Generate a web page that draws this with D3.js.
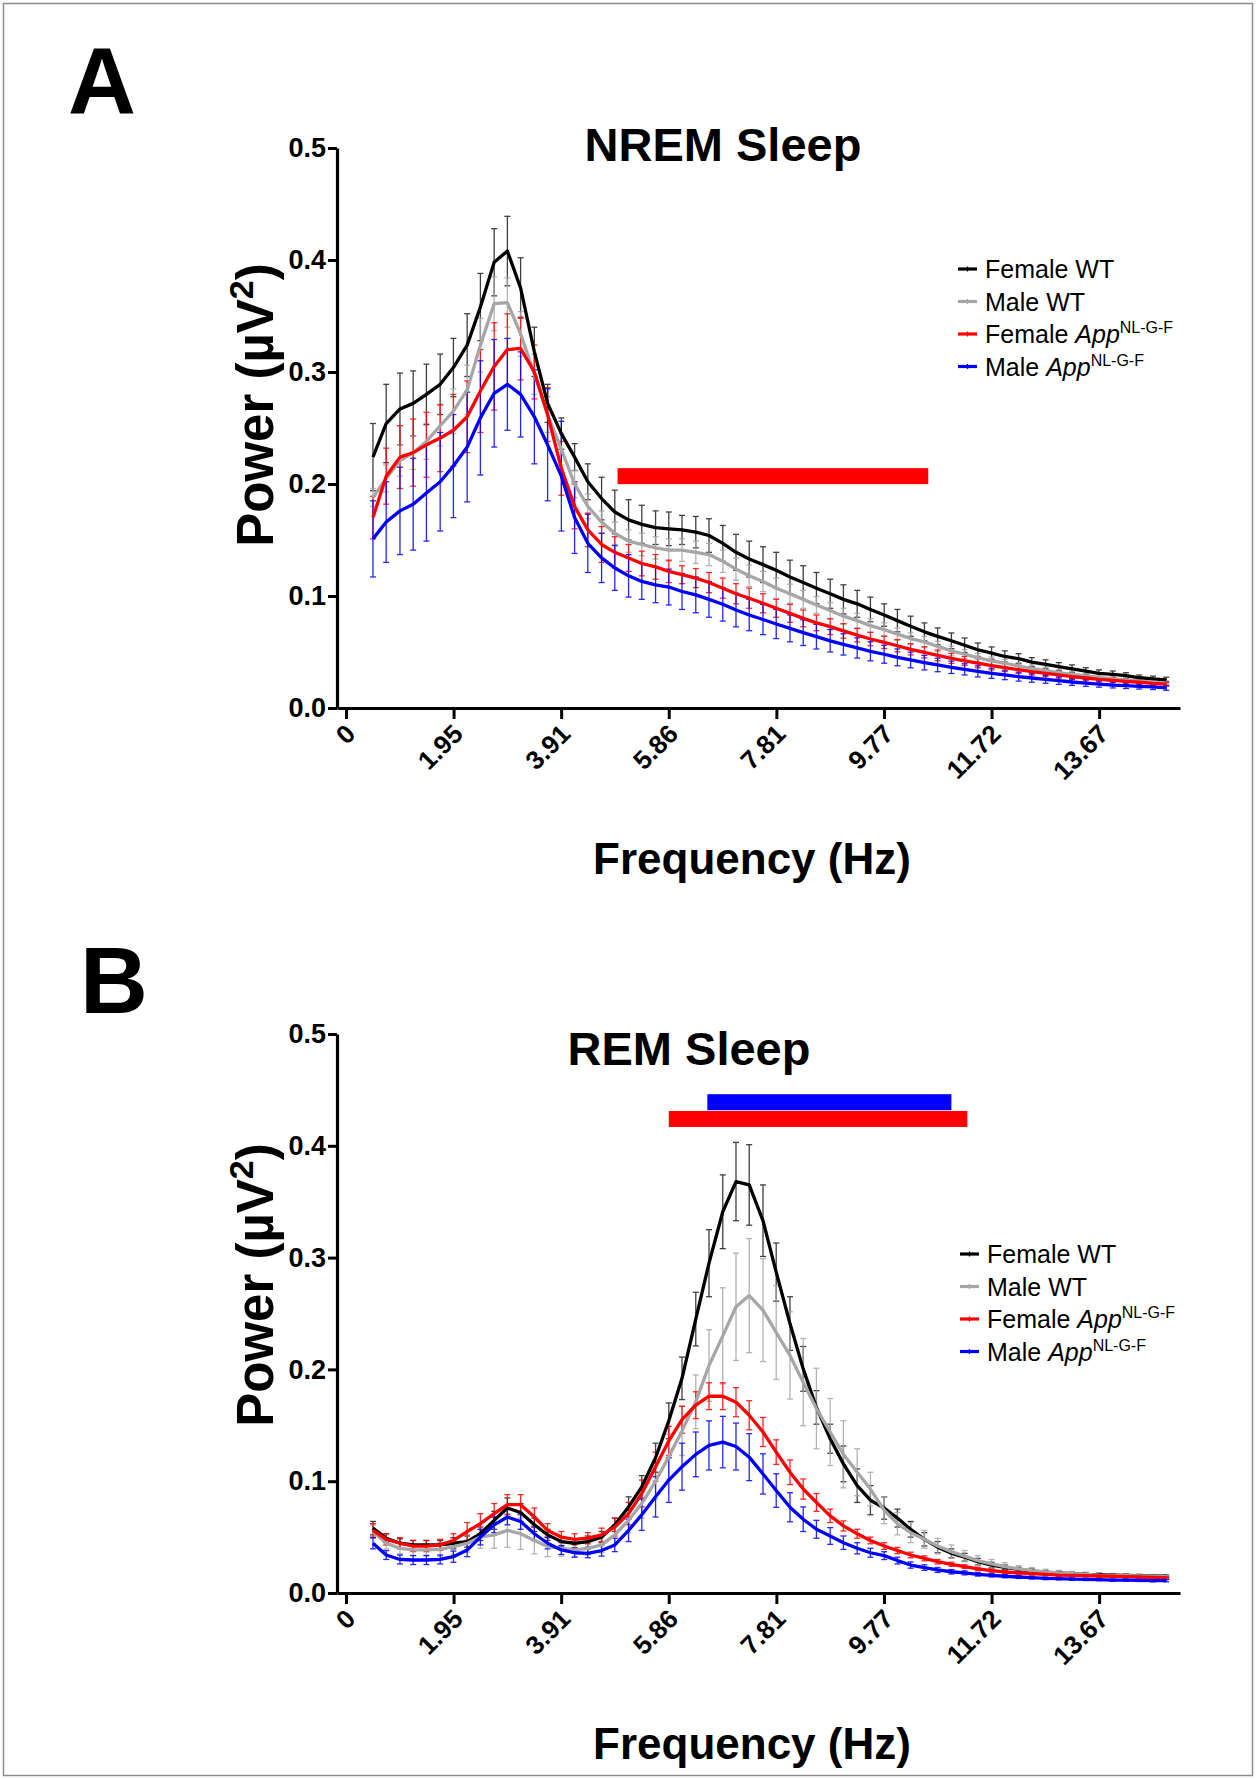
<!DOCTYPE html>
<html>
<head>
<meta charset="utf-8">
<script src="https://cdn.jsdelivr.net/npm/d3@7"></script>
<style>
  body { margin: 0; background: #fff; }
  svg text { font-family: "Liberation Sans", Arial, sans-serif; }
</style>
</head>
<body>
<svg id="fig" width="1256" height="1779"></svg>
<script>
// frequency bins (Hz), 0.244 Hz resolution, bins 2..61
var freqs = [0.49, 0.73, 0.98, 1.22, 1.46, 1.71, 1.95, 2.20, 2.44, 2.69, 2.93, 3.17, 3.42, 3.66, 3.91,
  4.15, 4.39, 4.64, 4.88, 5.13, 5.37, 5.62, 5.86, 6.10, 6.35, 6.59, 6.84, 7.08, 7.32, 7.57, 7.81,
  8.06, 8.30, 8.54, 8.79, 9.03, 9.28, 9.52, 9.77, 10.01, 10.25, 10.50, 10.74, 10.99, 11.23, 11.47, 11.72,
  11.96, 12.21, 12.45, 12.70, 12.94, 13.18, 13.43, 13.67, 13.92, 14.16, 14.40, 14.65, 14.89];

var xTicks = [0, 1.953, 3.906, 5.859, 7.813, 9.766, 11.719, 13.672];
var xTickLabels = ["0", "1.95", "3.91", "5.86", "7.81", "9.77", "11.72", "13.67"];
var yTicks = [0, 0.1, 0.2, 0.3, 0.4, 0.5];

var groups = ["Female WT", "Male WT", "Female App", "Male App"];
var colors = ["#000000", "#a6a6a6", "#ff0000", "#0000ff"];

// NREM means
var nremFemaleWT = [0.224, 0.254, 0.267, 0.272, 0.280, 0.289, 0.304, 0.324, 0.358, 0.398, 0.408, 0.375, 0.318, 0.272, 0.245,
  0.224, 0.202, 0.187, 0.175, 0.168, 0.164, 0.161, 0.160, 0.159, 0.157, 0.154, 0.147, 0.139, 0.133, 0.128, 0.123,
  0.117, 0.112, 0.107, 0.102, 0.097, 0.093, 0.088, 0.083, 0.078, 0.073, 0.068, 0.064, 0.060, 0.056, 0.052, 0.049,
  0.046, 0.044, 0.041, 0.039, 0.037, 0.035, 0.033, 0.031, 0.030, 0.029, 0.027, 0.026, 0.025];
var nremMaleWT = [0.188, 0.205, 0.221, 0.228, 0.238, 0.252, 0.265, 0.284, 0.324, 0.361, 0.362, 0.334, 0.298, 0.262, 0.231,
  0.200, 0.180, 0.166, 0.156, 0.149, 0.146, 0.143, 0.141, 0.141, 0.139, 0.137, 0.131, 0.124, 0.118, 0.113, 0.107,
  0.102, 0.097, 0.092, 0.087, 0.082, 0.078, 0.0735, 0.070, 0.066, 0.062, 0.059, 0.055, 0.051, 0.048, 0.045, 0.042,
  0.040, 0.0375, 0.0354, 0.0333, 0.0315, 0.030, 0.0286, 0.0274, 0.026, 0.025, 0.024, 0.023, 0.0223];
var nremFemaleApp = [0.170, 0.207, 0.224, 0.228, 0.235, 0.241, 0.248, 0.260, 0.283, 0.305, 0.320, 0.321, 0.300, 0.262, 0.214,
  0.180, 0.159, 0.146, 0.139, 0.134, 0.129, 0.126, 0.122, 0.119, 0.116, 0.112, 0.107, 0.102, 0.098, 0.0935, 0.089,
  0.0845, 0.080, 0.076, 0.0726, 0.0688, 0.065, 0.0616, 0.0586, 0.0556, 0.0524, 0.0497, 0.047, 0.0443, 0.042, 0.040, 0.0378,
  0.036, 0.0342, 0.0324, 0.031, 0.0295, 0.028, 0.0268, 0.0256, 0.0247, 0.0238, 0.023, 0.022, 0.0214];
var nremMaleApp = [0.151, 0.166, 0.176, 0.182, 0.192, 0.202, 0.216, 0.233, 0.259, 0.281, 0.289, 0.280, 0.260, 0.235, 0.207,
  0.170, 0.147, 0.134, 0.125, 0.118, 0.113, 0.110, 0.108, 0.104, 0.101, 0.097, 0.0926, 0.0875, 0.083, 0.079, 0.075,
  0.0711, 0.0673, 0.0637, 0.060, 0.0568, 0.0536, 0.0506, 0.048, 0.0452, 0.0429, 0.0405, 0.0384, 0.0363, 0.0345, 0.0327, 0.031,
  0.0295, 0.028, 0.0268, 0.0256, 0.0244, 0.0232, 0.0223, 0.0214, 0.0205, 0.0199, 0.0193, 0.0188, 0.018];

// NREM SEM
var nremFemaleWTsem = [0.030, 0.035, 0.032, 0.029, 0.027, 0.027, 0.026, 0.028, 0.030, 0.030, 0.031, 0.027, 0.022, 0.017, 0.014,
  0.012, 0.016, 0.019, 0.0195, 0.018, 0.017, 0.015, 0.015, 0.013, 0.014, 0.015, 0.016, 0.016, 0.016, 0.016, 0.016,
  0.015, 0.015, 0.014, 0.013, 0.013, 0.012, 0.011, 0.010, 0.010, 0.009, 0.008, 0.0075, 0.007, 0.0065, 0.006, 0.0055,
  0.005, 0.0045, 0.004, 0.004, 0.0035, 0.0035, 0.003, 0.003, 0.003, 0.0025, 0.0025, 0.0025, 0.0025];
var nremMaleWTsem = [0.008, 0.012, 0.014, 0.015, 0.016, 0.018, 0.020, 0.022, 0.024, 0.024, 0.022, 0.020, 0.018, 0.016, 0.014,
  0.012, 0.011, 0.010, 0.010, 0.010, 0.010, 0.010, 0.010, 0.010, 0.010, 0.010, 0.010, 0.010, 0.0095, 0.009, 0.009,
  0.0085, 0.008, 0.0075, 0.007, 0.007, 0.0065, 0.006, 0.006, 0.0055, 0.005, 0.005, 0.0045, 0.0042, 0.004, 0.0038, 0.0035,
  0.0033, 0.003, 0.003, 0.0028, 0.0026, 0.0025, 0.0024, 0.0023, 0.0022, 0.0021, 0.002, 0.002, 0.002];
var nremFemaleAppSem = [0.019, 0.025, 0.028, 0.030, 0.029, 0.030, 0.032, 0.032, 0.037, 0.039, 0.032, 0.028, 0.024, 0.024, 0.024,
  0.020, 0.015, 0.016, 0.014, 0.012, 0.011, 0.011, 0.010, 0.008, 0.0085, 0.009, 0.009, 0.009, 0.009, 0.0085, 0.008,
  0.008, 0.0075, 0.007, 0.007, 0.0065, 0.006, 0.006, 0.0055, 0.0055, 0.005, 0.005, 0.0048, 0.0045, 0.004, 0.004, 0.0038,
  0.0035, 0.0033, 0.003, 0.003, 0.0028, 0.0026, 0.0025, 0.0024, 0.0023, 0.0022, 0.0021, 0.002, 0.002];
var nremMaleAppSem = [0.034, 0.036, 0.039, 0.041, 0.043, 0.044, 0.046, 0.049, 0.051, 0.048, 0.041, 0.038, 0.042, 0.050, 0.049,
  0.032, 0.026, 0.022, 0.020, 0.019, 0.016, 0.016, 0.016, 0.016, 0.016, 0.016, 0.015, 0.015, 0.014, 0.0135, 0.013,
  0.012, 0.0115, 0.011, 0.010, 0.0095, 0.009, 0.0085, 0.008, 0.0075, 0.007, 0.0065, 0.006, 0.0055, 0.005, 0.005, 0.0045,
  0.0042, 0.004, 0.0038, 0.0035, 0.0033, 0.003, 0.003, 0.0028, 0.0026, 0.0025, 0.0024, 0.0023, 0.0022];

// REM means
var remFemaleWT = [0.058, 0.049, 0.0445, 0.043, 0.043, 0.043, 0.0445, 0.046, 0.053, 0.065, 0.076, 0.072, 0.061, 0.052, 0.046,
  0.0445, 0.046, 0.050, 0.061, 0.077, 0.095, 0.121, 0.154, 0.192, 0.245, 0.295, 0.341, 0.368, 0.365, 0.333, 0.287,
  0.241, 0.2005, 0.166, 0.138, 0.1155, 0.096, 0.083, 0.076, 0.067, 0.057, 0.048, 0.041, 0.0355, 0.032, 0.028, 0.025,
  0.023, 0.021, 0.0197, 0.0185, 0.018, 0.0173, 0.0167, 0.0164, 0.016, 0.0158, 0.0155, 0.0152, 0.015];
var remMaleWT = [0.055, 0.0445, 0.040, 0.0385, 0.0385, 0.039, 0.0415, 0.0445, 0.050, 0.052, 0.056, 0.053, 0.047, 0.0415, 0.040,
  0.0385, 0.040, 0.043, 0.052, 0.065, 0.080, 0.100, 0.122, 0.145, 0.171, 0.2035, 0.230, 0.256, 0.266, 0.253, 0.233,
  0.2125, 0.1886, 0.165, 0.144, 0.124, 0.108, 0.093, 0.074, 0.062, 0.054, 0.048, 0.042, 0.037, 0.033, 0.029, 0.026,
  0.0236, 0.0215, 0.020, 0.0188, 0.018, 0.0173, 0.0167, 0.016, 0.0158, 0.0155, 0.0152, 0.015, 0.0146];
var remFemaleApp = [0.056, 0.048, 0.0445, 0.042, 0.042, 0.043, 0.047, 0.055, 0.062, 0.071, 0.079, 0.079, 0.068, 0.056, 0.050,
  0.048, 0.049, 0.052, 0.059, 0.071, 0.089, 0.113, 0.136, 0.155, 0.168, 0.176, 0.176, 0.1707, 0.159, 0.144, 0.126,
  0.108, 0.093, 0.081, 0.069, 0.060, 0.053, 0.047, 0.042, 0.038, 0.034, 0.031, 0.028, 0.0257, 0.0236, 0.0215, 0.020,
  0.0188, 0.018, 0.0173, 0.0167, 0.016, 0.0158, 0.0155, 0.0152, 0.015, 0.0146, 0.0143, 0.014, 0.0137];
var remMaleApp = [0.0445, 0.034, 0.030, 0.0295, 0.0295, 0.030, 0.0325, 0.0385, 0.050, 0.061, 0.068, 0.064, 0.053, 0.0445, 0.0385,
  0.036, 0.0355, 0.038, 0.043, 0.056, 0.070, 0.086, 0.101, 0.113, 0.124, 0.132, 0.135, 0.131, 0.1215, 0.1065, 0.0916,
  0.0767, 0.066, 0.057, 0.051, 0.045, 0.040, 0.036, 0.0334, 0.029, 0.025, 0.0227, 0.0206, 0.019, 0.018, 0.0167, 0.0158,
  0.015, 0.0143, 0.0137, 0.0131, 0.0128, 0.0125, 0.0122, 0.012, 0.0116, 0.0116, 0.0113, 0.011, 0.011];

// REM SEM
var remFemaleWTsem = [0.006, 0.004, 0.004, 0.004, 0.004, 0.004, 0.005, 0.005, 0.006, 0.008, 0.009, 0.008, 0.006, 0.005, 0.004,
  0.004, 0.005, 0.005, 0.006, 0.009, 0.010, 0.013, 0.016, 0.019, 0.024, 0.030, 0.033, 0.035, 0.036, 0.032, 0.026,
  0.024, 0.020, 0.015, 0.013, 0.016, 0.015, 0.013, 0.010, 0.008, 0.007, 0.006, 0.005, 0.004, 0.0035, 0.003, 0.0025,
  0.002, 0.002, 0.0018, 0.0016, 0.0015, 0.0015, 0.0014, 0.0014, 0.0013, 0.0013, 0.0012, 0.0012, 0.0012];
var remMaleWTsem = [0.006, 0.005, 0.005, 0.005, 0.005, 0.006, 0.007, 0.008, 0.010, 0.012, 0.015, 0.014, 0.012, 0.009, 0.007,
  0.006, 0.006, 0.007, 0.009, 0.011, 0.013, 0.016, 0.020, 0.022, 0.024, 0.032, 0.043, 0.048, 0.051, 0.046, 0.042,
  0.039, 0.039, 0.036, 0.030, 0.030, 0.021, 0.015, 0.012, 0.010, 0.009, 0.008, 0.007, 0.006, 0.005, 0.0045, 0.004,
  0.0035, 0.003, 0.0028, 0.0025, 0.0022, 0.002, 0.002, 0.0018, 0.0017, 0.0016, 0.0015, 0.0015, 0.0015];
var remFemaleAppSem = [0.006, 0.005, 0.005, 0.005, 0.005, 0.005, 0.006, 0.008, 0.009, 0.009, 0.009, 0.009, 0.008, 0.006, 0.005,
  0.005, 0.005, 0.006, 0.008, 0.010, 0.012, 0.013, 0.013, 0.012, 0.012, 0.012, 0.012, 0.013, 0.013, 0.013, 0.011,
  0.011, 0.009, 0.008, 0.006, 0.0045, 0.004, 0.003, 0.003, 0.0028, 0.0025, 0.0022, 0.002, 0.0018, 0.0016, 0.0015, 0.0014,
  0.0013, 0.0012, 0.0012, 0.0011, 0.0011, 0.001, 0.001, 0.001, 0.001, 0.001, 0.001, 0.001, 0.001];
var remMaleAppSem = [0.005, 0.004, 0.004, 0.004, 0.004, 0.004, 0.005, 0.006, 0.007, 0.007, 0.007, 0.007, 0.006, 0.005, 0.004,
  0.004, 0.004, 0.005, 0.006, 0.010, 0.014, 0.018, 0.020, 0.021, 0.020, 0.022, 0.023, 0.021, 0.021, 0.018, 0.015,
  0.013, 0.011, 0.008, 0.0075, 0.006, 0.005, 0.004, 0.0035, 0.003, 0.0028, 0.0025, 0.0022, 0.002, 0.0018, 0.0016, 0.0015,
  0.0014, 0.0013, 0.0012, 0.0012, 0.0011, 0.0011, 0.001, 0.001, 0.001, 0.001, 0.001, 0.001, 0.001];

// significance bars: [from Hz, to Hz, power level]
var nremSigFrom = [4.93], nremSigTo = [10.57], nremSigLevel = [0.207], nremSigColor = ["#ff0000"];
var remSigFrom = [5.86, 6.56], remSigTo = [11.28, 10.99], remSigLevel = [0.424, 0.439], remSigColor = ["#ff0000", "#0000ff"];

var svg = d3.select("#fig");

// outer frame
svg.append("rect")
  .attr("x", 3.5).attr("y", 3.5)
  .attr("width", 1249).attr("height", 1772)
  .attr("fill", "none").attr("stroke", "#8c8c8c").attr("stroke-width", 1.5);

var x = d3.scaleLinear().domain([-0.163, 15.14]).range([337, 1180]);

function drawPanel(p) {
  var y = d3.scaleLinear().domain([0, 0.5]).range([p.bottom, p.top]);
  var g = svg.append("g");

  // panel letter
  g.append("text").attr("x", p.letterX).attr("y", p.letterY)
    .attr("font-size", 94).attr("font-weight", "bold").text(p.letter);

  // title
  g.append("text").attr("x", p.titleX).attr("y", p.titleY)
    .attr("text-anchor", "middle").attr("font-size", 47).attr("font-weight", "bold").text(p.title);

  // y axis
  var yAxis = g.append("g").attr("transform", "translate(337,0)")
    .call(d3.axisLeft(y).tickValues(yTicks).tickFormat(d3.format(".1f")).tickSize(9).tickSizeOuter(0));
  yAxis.select(".domain").attr("stroke-width", 3.2);
  yAxis.selectAll(".tick line").attr("stroke-width", 3);
  yAxis.selectAll(".tick text").attr("font-size", 27).attr("font-weight", "bold")
    .attr("font-family", "Liberation Sans, Arial, sans-serif").attr("x", -11).attr("fill", "#000");

  // x axis
  var xAxis = g.append("g").attr("transform", "translate(0," + p.bottom + ")")
    .call(d3.axisBottom(x).tickValues(xTicks).tickFormat(function (d, i) { return xTickLabels[i]; })
      .tickSize(11).tickSizeOuter(0));
  xAxis.select(".domain").attr("stroke-width", 3.2);
  xAxis.selectAll(".tick line").attr("stroke-width", 3);
  xAxis.selectAll(".tick text")
    .attr("font-size", 26).attr("font-weight", "bold").attr("fill", "#000")
    .attr("font-family", "Liberation Sans, Arial, sans-serif")
    .attr("text-anchor", "end").attr("y", 0).attr("dy", "0.35em")
    .attr("transform", "translate(4,21) rotate(-45)");

  // axis titles
  g.append("text").attr("x", 752).attr("y", p.bottom + 166)
    .attr("text-anchor", "middle").attr("font-size", 44).attr("font-weight", "bold").text("Frequency (Hz)");
  var yl = g.append("text")
    .attr("transform", "translate(273," + p.yLabelY + ") rotate(-90)")
    .attr("text-anchor", "middle").attr("font-size", 51).attr("font-weight", "bold");
  yl.append("tspan").text("Power (\u00b5V");
  yl.append("tspan").attr("font-size", 34).attr("dy", -20).text("2");
  yl.append("tspan").attr("dy", 20).text(")");

  // significance bars
  g.selectAll("rect.sig").data(p.sigFrom).enter().append("rect").attr("class", "sig")
    .attr("x", function (d) { return x(d); })
    .attr("width", function (d, i) { return x(p.sigTo[i]) - x(d); })
    .attr("y", function (d, i) { return y(p.sigLevel[i]) - 8; })
    .attr("height", 16)
    .attr("fill", function (d, i) { return p.sigColor[i]; });

  var line = d3.line().x(function (d, i) { return x(freqs[i]); }).y(function (d) { return y(d); });

  p.means.forEach(function (m, s) {
    var sem = p.sems[s];
    var eb = g.append("g").attr("stroke", colors[s]).attr("stroke-width", 1.3)
      .attr("opacity", s === 0 ? 0.75 : 0.85);
    m.forEach(function (v, i) {
      var cx = x(freqs[i]);
      var y1 = y(v + sem[i]), y2 = y(v - sem[i]);
      eb.append("line").attr("x1", cx).attr("x2", cx).attr("y1", y1).attr("y2", y2);
      eb.append("line").attr("x1", cx - 3).attr("x2", cx + 3).attr("y1", y1).attr("y2", y1);
      eb.append("line").attr("x1", cx - 3).attr("x2", cx + 3).attr("y1", y2).attr("y2", y2);
    });
  });
  p.means.forEach(function (m, s) {
    g.append("path").datum(m).attr("d", line)
      .attr("fill", "none").attr("stroke", colors[s]).attr("stroke-width", 3.3)
      .attr("stroke-linejoin", "round");
  });

  // legend
  var lg = g.append("g").attr("transform", "translate(" + p.legendX + "," + p.legendY + ")");
  groups.forEach(function (name, i) {
    var row = lg.append("g").attr("transform", "translate(0," + (i * 32.5) + ")");
    row.append("line").attr("x1", 0).attr("x2", 19).attr("y1", 0).attr("y2", 0)
      .attr("stroke", colors[i]).attr("stroke-width", 3.2);
    row.append("line").attr("x1", 9.5).attr("x2", 9.5).attr("y1", -2.5).attr("y2", 2.5)
      .attr("stroke", colors[i]).attr("stroke-width", 1.3);
    var t = row.append("text").attr("x", 27).attr("y", 9).attr("font-size", 25);
    if (name.indexOf("App") < 0) {
      t.text(name);
    } else {
      t.append("tspan").text(name.replace(" App", " "));
      t.append("tspan").attr("font-style", "italic").text("App");
      t.append("tspan").attr("font-size", 16).attr("dy", -10).text("NL-G-F");
    }
  });
}

drawPanel({
  letter: "A", letterX: 68, letterY: 114,
  title: "NREM Sleep", titleX: 723, titleY: 161,
  top: 148, bottom: 708, yLabelY: 405,
  means: [nremFemaleWT, nremMaleWT, nremFemaleApp, nremMaleApp],
  sems: [nremFemaleWTsem, nremMaleWTsem, nremFemaleAppSem, nremMaleAppSem],
  sigFrom: nremSigFrom, sigTo: nremSigTo, sigLevel: nremSigLevel, sigColor: nremSigColor,
  legendX: 958, legendY: 269
});

drawPanel({
  letter: "B", letterX: 80, letterY: 1013,
  title: "REM Sleep", titleX: 689, titleY: 1065,
  top: 1034, bottom: 1593, yLabelY: 1285,
  means: [remFemaleWT, remMaleWT, remFemaleApp, remMaleApp],
  sems: [remFemaleWTsem, remMaleWTsem, remFemaleAppSem, remMaleAppSem],
  sigFrom: remSigFrom, sigTo: remSigTo, sigLevel: remSigLevel, sigColor: remSigColor,
  legendX: 960, legendY: 1254
});
</script>
</body>
</html>
